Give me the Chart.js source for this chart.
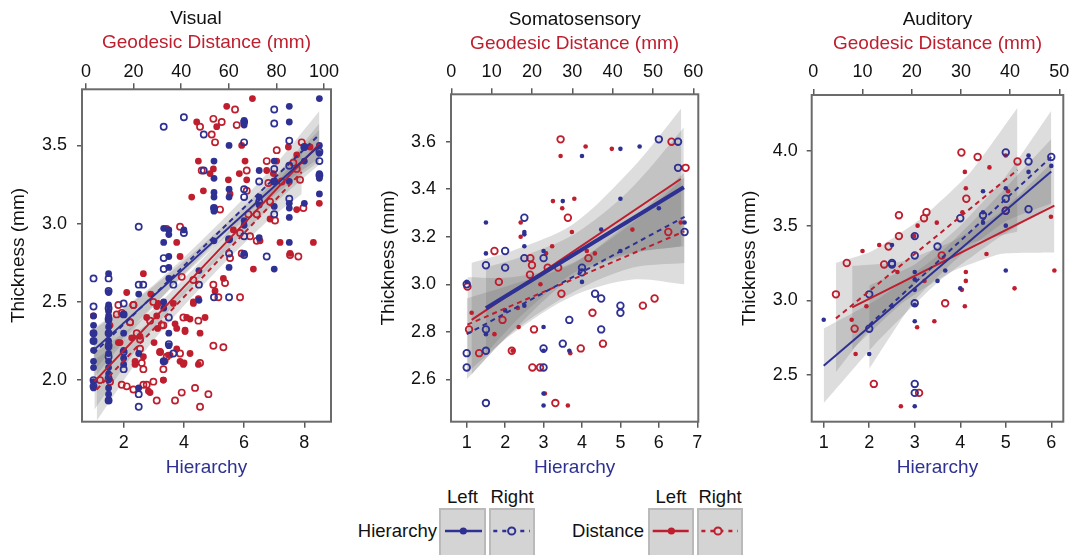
<!DOCTYPE html>
<html>
<head>
<meta charset="utf-8">
<title>Thickness vs hierarchy and geodesic distance</title>
<script src="https://cdn.jsdelivr.net/npm/chart.js@4.4.1/dist/chart.umd.min.js"></script>
<style>
  html, body { margin: 0; padding: 0; background: #fff; overflow: hidden; }
  body { width: 1073px; height: 555px; position: relative; font-family: "Liberation Sans", Arial, Helvetica, sans-serif; color: #111; }
  canvas { position: absolute; top: 0; }
  .lg-head, .lg-name { position: absolute; font-size: 18.5px; line-height: 22px; }
  .lg-head { top: 486px; text-align: center; }
  .lg-name { top: 520px; text-align: right; width: 110px; }
  .lg-box { position: absolute; top: 508px; height: 60px; box-sizing: border-box; background: #d4d4d4; border: 2px solid #bababa; }
  .lg-box svg { position: absolute; left: 0; top: 0; }
</style>
</head>
<body>
<canvas id="visual" width="385" height="480" style="left:0px"></canvas>
<canvas id="somato" width="353" height="480" style="left:362px"></canvas>
<canvas id="audit" width="361" height="480" style="left:722px"></canvas>

<div class="lg-head" style="left:439px;width:47px">Left</div>
<div class="lg-head" style="left:489px;width:46px">Right</div>
<div class="lg-name" style="left:327px">Hierarchy</div>
<div class="lg-box" style="left:439px;width:47px">
  <svg width="43" height="50"><line x1="4" y1="21" x2="41" y2="21" stroke="#2e3192" stroke-width="2.5"/><circle cx="22.3" cy="21" r="3.6" fill="#2e3192"/></svg>
</div>
<div class="lg-box" style="left:489px;width:46px">
  <svg width="42" height="50"><line x1="2.3" y1="21" x2="39" y2="21" stroke="#2e3192" stroke-width="2.5" stroke-dasharray="4 5"/><circle cx="20.7" cy="21" r="3.6" fill="#d4d4d4" stroke="#2e3192" stroke-width="2"/></svg>
</div>

<div class="lg-head" style="left:648px;width:46px">Left</div>
<div class="lg-head" style="left:697px;width:46px">Right</div>
<div class="lg-name" style="left:534px">Distance</div>
<div class="lg-box" style="left:648px;width:46px">
  <svg width="42" height="50"><line x1="2.7" y1="21" x2="38.7" y2="21" stroke="#be1e2d" stroke-width="2.5"/><circle cx="21.4" cy="21" r="3.6" fill="#be1e2d"/></svg>
</div>
<div class="lg-box" style="left:697px;width:46px">
  <svg width="42" height="50"><line x1="2.4" y1="21" x2="39" y2="21" stroke="#be1e2d" stroke-width="2.5" stroke-dasharray="4 5"/><circle cx="19" cy="21" r="3.6" fill="#d4d4d4" stroke="#be1e2d" stroke-width="2"/></svg>
</div>

<script>
// ---------- Visual ----------
const visualHierTicks = [2, 4, 6, 8];
const visualDistTicks = [0, 20, 40, 60, 80, 100];
const visualThickTicks = [2.0, 2.5, 3.0, 3.5];

// [hierarchy, thickness]
const visualHierL = [
  [1,2.41],[1,2.35],[1,2.30],[1,2.25],[1,2.19],[1,2.12],[1,2.08],[1,1.99],[1,1.95],
  [1.5,2.68],[1.5,2.56],[1.5,2.48],[1.5,2.44],[1.5,2.41],[1.5,2.38],[1.5,2.34],[1.5,2.30],[1.5,2.25],
  [1.5,2.21],[1.5,2.17],[1.5,2.12],[1.5,2.08],[1.5,2.04],[1.5,2.00],[1.5,1.95],[1.5,1.91],[1.5,1.87],
  [2,2.42],[2,2.30],[2,2.19],[2,2.14],[2,2.10],
  [2.5,2.55],[2.5,2.17],[2.5,1.95],
  [3.33,2.97],[3.33,2.88],[3.33,2.50],[3.33,2.46],[3.33,2.12],
  [3.5,2.96],[3.5,2.93],[3.5,2.79],[3.5,2.72],[3.5,2.65],[3.5,2.30],[3.5,2.22],
  [4,2.96],[4.5,2.70],[4.5,2.51],
  [5,3.40],[5,3.29],[5,3.20],[5,3.17],[5,3.10],[5,3.08],[5,2.89],
  [5.5,3.50],[5.5,3.22],[5.5,3.17],[5.5,2.90],[5.5,2.72],
  [6,3.66],[6,3.63],[6,3.02],[6,2.99],[6,2.81],
  [6.5,3.34],[6.5,3.17],[6.5,3.12],[6.5,2.91],
  [7,3.40],[7,3.27],[7,3.11],[7,2.71],
  [7.5,3.75],[7.5,3.65],[7.5,3.27],[7.5,3.13],[7.5,3.10],[7.5,3.04],[7.5,2.88],
  [8,3.49],[8,3.40],[8,3.13],
  [8.5,3.80],[8.5,3.50],[8.5,3.45],[8.5,3.32],[8.5,3.29],[8.5,3.19]
];
const visualHierR = [
  [1,2.65],[1,2.47],[1,2.30],[1,2.25],[1,2.00],[1,1.96],
  [1.5,2.65],[1.5,2.57],[1.5,2.46],[1.5,2.39],[1.5,2.30],[1.5,2.22],[1.5,2.15],[1.5,2.01],[1.5,1.87],
  [2,2.49],[2,2.42],[2,2.18],[2,2.07],
  [2.5,2.61],[2.5,2.98],[2.5,1.91],[2.5,1.83],[2.65,2.61],
  [3.33,3.62],[3.33,2.78],[3.33,2.71],[3.33,2.12],
  [3.5,2.40],[3.5,2.23],[3.65,2.61],[3.65,2.17],
  [4,3.68],[4,2.94],[4.5,2.61],[4.66,3.57],[4.66,3.34],
  [5,2.53],[5,3.10],[5.5,2.53],[5.5,2.81],[5.5,2.90],
  [6,3.65],[6,3.52],[6,3.22],[6,3.17],[6,2.92],[6,2.80],
  [6.5,3.27],[6.5,3.14],[6.75,2.79],
  [7,3.73],[7,3.64],[7,3.35],[7,3.27],[7,3.06],
  [7.5,3.53],[7.5,3.37],[7.5,3.16],
  [8,3.49],[8.5,3.46],[8.5,3.40],[8.5,3.31]
];
// [distance mm, thickness]
const visualDistL = [
  [3.1,2.41],[3.1,2.30],[10.1,2.35],[13.6,2.24],[17.1,2.56],[19.2,2.27],[20.6,2.10],[24.1,2.68],
  [24.1,2.15],[25.5,2.40],[26.9,1.92],[29.7,2.47],[31.1,2.18],[32.5,2.00],[33.2,2.12],[33.9,2.97],
  [35.3,2.16],[36.7,2.49],[37.4,2.36],[38.1,2.20],[38.1,2.88],[39.5,2.79],[40.9,2.10],[41.6,2.31],
  [42.3,2.40],[43.7,2.39],[44.4,3.17],[45.1,2.49],[46.5,3.65],[47.2,3.40],[47.9,2.30],[49.3,3.21],
  [50.0,2.40],[52.1,3.32],[53.5,3.35],[54.2,2.57],[54.9,3.62],[57.7,2.65],[59.1,3.75],[59.8,3.28],
  [60.5,3.19],[61.9,2.96],[64.4,3.32],[65.4,3.50],[66.8,3.40],[67.5,3.28],[69.9,3.80],[70.3,2.71],
  [73.1,2.89],[75.9,3.34],[77.3,3.03],[78.7,3.32],[80.1,3.40],[81.5,2.88],[85.0,3.49],[85.7,2.81],
  [88.5,3.44],[88.5,3.09],[94.1,3.49],[95.5,2.88],[98.0,3.13],
  [29.7,2.41],[30.1,2.33],[28.6,2.24],[38.1,2.33],[41.6,2.32],[43.7,2.17],[39.5,2.12],[34.6,2.16],
  [32.5,2.00],[26.2,1.93],[14.3,2.24],[20.6,2.12],[47.2,2.10],[41.2,2.11],[22.7,2.28],[27.2,2.55],
  [30.4,2.49],[47.2,2.52],[45.1,2.50]
];
const visualDistR = [
  [5.9,2.00],[10.1,1.99],[12.9,2.42],[13.6,2.48],[15.0,1.97],[17.1,1.96],[18.5,2.37],[19.9,1.94],
  [19.9,2.48],[21.3,2.30],[24.1,2.07],[24.1,1.97],[25.5,1.97],[28.3,1.99],[28.3,2.50],[29.7,1.87],
  [32.5,2.07],[32.5,2.35],[33.9,2.15],[37.4,1.87],[39.5,2.17],[39.5,2.98],[40.2,1.92],[40.2,2.66],
  [40.9,2.40],[45.1,2.64],[45.8,1.95],[47.2,2.38],[47.9,2.11],[47.9,3.62],[47.9,1.83],[48.6,3.34],
  [51.4,1.91],[52.8,3.57],[53.5,2.22],[53.5,2.61],[53.5,3.67],[54.2,3.52],[55.6,2.53],[56.3,3.09],
  [57.0,3.65],[57.7,2.21],[58.4,2.62],[60.5,2.78],[62.6,3.73],[63.3,3.63],[64.7,2.53],[64.7,2.94],
  [65.4,2.81],[67.5,3.34],[67.5,3.21],[68.2,3.06],[68.9,2.92],[71.7,2.89],[71.7,3.06],[75.9,3.40],
  [76.6,3.26],[77.3,3.14],[79.4,3.02],[80.1,3.47],[82.2,3.27],[85.7,2.80],[87.1,3.39],[88.5,3.35],
  [89.2,2.79],[89.9,3.28],[90.6,3.52],[91.3,3.10],
  [19.9,2.48],[15.0,2.43],[18.5,2.37],[22.7,2.26],[26.9,2.38],[31.8,2.35],[22.7,2.20],[31.1,2.18],
  [23.4,2.11]
];
const visualHierLFit = [[1, 2.19], [8.5, 3.50]];
const visualHierRFit = [[1, 2.17], [8.5, 3.57]];
const visualDistLFit = [[3.5, 1.99], [98, 3.51]];
const visualDistRFit = [[4.5, 1.94], [90.6, 3.33]];
// [x, lower, upper]
const visualHierLBand = [[1,2.06,2.32],[3,2.48,2.60],[5,2.85,2.93],[7,3.18,3.30],[8.5,3.40,3.60]];
const visualHierRBand = [[1,2.01,2.33],[3,2.47,2.61],[5,2.87,2.97],[7,3.21,3.37],[8.5,3.42,3.72]];
const visualDistLBand = [[3.5,1.81,2.17],[25,2.27,2.41],[50,2.69,2.79],[75,3.07,3.21],[98,3.38,3.64]];
const visualDistRBand = [[4.5,1.74,2.14],[25,2.19,2.35],[50,2.62,2.72],[75,3.00,3.16],[90.6,3.19,3.47]];

// ---------- Somatosensory ----------
const somatoHierTicks = [1, 2, 3, 4, 5, 6, 7];
const somatoDistTicks = [0, 10, 20, 30, 40, 50, 60];
const somatoThickTicks = [2.6, 2.8, 3.0, 3.2, 3.4, 3.6];

const somatoHierL = [
  [1,3.01],[1.5,3.26],[1.5,3.13],[1.5,2.79],[2,2.89],[2.5,3.22],[2.5,3.21],[2.5,3.16],[2.5,2.91],
  [3,3.14],[3,2.82],[3,2.72],[3,2.54],[3,2.49],[3.5,3.35],[3.67,2.72],[4,3.54],[4,3.01],
  [4.5,3.23],[5,3.57],[5,3.36],[5,3.14],[5.5,3.58],[6,3.32],[6.67,3.26]
];
const somatoHierR = [
  [1,2.71],[1,2.65],[1,3.00],[1.5,3.08],[1.5,2.81],[1.5,2.72],[1.5,2.50],[2,3.14],[2,3.07],
  [2.5,3.28],[2.5,3.11],[3,3.11],[3,2.73],[3,2.65],[3.5,2.75],[3.67,2.85],[4,3.07],[4,3.05],
  [4.34,2.96],[4.5,2.94],[4.5,2.81],[5,2.91],[5,2.88],[6,3.61],[6.5,3.60],[6.5,3.49],[6.67,3.22]
];
const somatoDistL = [
  [5.05,2.88],[10.7,2.79],[15.2,2.72],[16.7,2.82],[17.2,3.26],[17.2,3.20],[22.1,3.00],[23.5,3.13],
  [25.0,3.16],[25.2,3.35],[23.2,2.54],[27.1,3.54],[27.5,3.32],[29.9,3.22],[30.5,3.36],[29.5,2.71],
  [28.9,2.49],[33.3,3.58],[33.6,3.14],[35.6,3.13],[39.8,3.57],[44.9,3.23],[56.9,3.26],[16.5,2.90]
];
const somatoDistR = [
  [4.0,2.99],[4.4,2.81],[6.9,2.71],[10.7,3.14],[11.8,3.01],[12.7,2.85],[15.0,2.72],[19.6,3.11],
  [19.5,3.04],[20.0,3.08],[20.5,2.81],[20.1,2.65],[22.0,2.65],[23.9,3.07],[25.8,2.50],[26.5,3.07],
  [27.1,3.61],[27.3,2.96],[28.9,3.28],[32.1,2.73],[34.0,3.11],[35.0,2.88],[37.6,2.75],[47.5,2.91],
  [50.4,2.94],[53.8,3.22],[54.6,3.60],[58.1,3.49]
];
const somatoHierLFit = [[1.5, 2.899], [6.65, 3.408]];
const somatoHierRFit = [[1, 2.79], [6.67, 3.284]];
const somatoDistLFit = [[5.05, 2.85], [56.9, 3.443]];
const somatoDistRFit = [[4, 2.83], [57.8, 3.223]];
const somatoHierLBand = [[1.5,2.71,3.07],[2.5,2.88,3.12],[3.8,3.05,3.21],[5.2,3.13,3.39],[6.65,3.16,3.66]];
const somatoHierRBand = [[1,2.60,2.94],[2.2,2.80,3.00],[3.8,2.97,3.09],[5.3,3.07,3.27],[6.67,3.09,3.47]];
const somatoDistLBand = [[5,2.62,3.09],[15,2.80,3.14],[30,3.03,3.25],[45,3.13,3.49],[57,3.16,3.74]];
const somatoDistRBand = [[4,2.63,3.03],[15,2.79,3.03],[30,2.95,3.09],[45,3.02,3.26],[57.8,3.00,3.45]];

// ---------- Auditory ----------
const auditHierTicks = [1, 2, 3, 4, 5, 6];
const auditDistTicks = [0, 10, 20, 30, 40, 50];
const auditThickTicks = [2.5, 3.0, 3.5, 4.0];

const auditHierL = [
  [1,2.87],[2,2.64],[2.5,3.37],[2.5,2.96],[3,3.19],[3,3.14],[3,3.07],[3,2.97],[3,2.86],[3,2.29],
  [3.5,3.13],[3.67,3.20],[4,3.08],[4.5,3.73],[4.5,3.52],[4.5,3.59],[5,3.75],[5,3.50],[5,3.20],
  [5.5,3.97],[5.5,3.86],[6,3.90]
];
const auditHierR = [
  [2,3.04],[2,2.81],[2.5,3.25],[2.5,3.24],[3,3.43],[3,3.30],[3,2.98],[3,2.44],[3,2.38],[3.5,3.36],
  [4,3.55],[4.5,3.57],[5,3.99],[5,3.68],[5,3.60],[5.5,3.93],[5.5,3.61],[6,3.96]
];
const auditDistL = [
  [7.8,2.87],[8.6,2.64],[10.0,3.33],[10.8,2.96],[13.4,3.37],[17.1,3.19],[17.8,2.29],[20.5,3.43],
  [21.2,3.50],[21.1,2.82],[22.6,3.13],[24.6,2.86],[25.1,3.52],[30.3,3.59],[30.2,3.07],[30.8,3.86],
  [31.0,3.75],[31.0,3.19],[31.0,3.13],[30.8,2.96],[35.2,3.31],[35.8,3.89],[39.1,3.97],[39.6,3.73],
  [40.9,3.08],[48.3,3.56],[49.0,3.20]
];
const auditDistR = [
  [4.6,3.04],[6.8,3.25],[8.4,2.81],[12.3,2.44],[14.4,3.24],[15.3,3.36],[17.4,3.57],[17.4,3.43],
  [21.5,2.38],[22.5,3.55],[23.0,3.59],[26.1,3.30],[26.8,2.98],[30.1,3.99],[31.1,3.68],[33.4,3.96],
  [39.1,3.60],[41.5,3.93]
];
const auditHierLFit = [[1, 2.562], [6, 3.862]];
const auditHierRFit = [[2, 2.835], [6, 3.96]];
const auditDistLFit = [[7.9, 2.953], [49, 3.634]];
const auditDistRFit = [[4.6, 2.879], [41.5, 3.873]];
const auditHierLBand = [[1,2.31,2.81],[2.2,2.73,3.01],[3.5,3.12,3.30],[4.8,3.41,3.69],[6,3.64,4.08]];
const auditHierRBand = [[2,2.54,3.10],[3,3.00,3.24],[4,3.30,3.50],[5,3.53,3.83],[6,3.65,4.27]];
const auditDistLBand = [[7.9,2.67,3.23],[18,2.98,3.26],[28,3.19,3.39],[38,3.31,3.59],[49,3.32,3.94]];
const auditDistRBand = [[4.6,2.52,3.25],[12,2.83,3.33],[22,3.15,3.55],[32,3.38,3.86],[41.5,3.46,4.29]];

// ---------- drawing ----------
const BLUE = '#2e3192';
const RED = '#be1e2d';
const BAND = 'rgba(100,100,100,0.22)';

Chart.defaults.font.family = '"Liberation Sans", Arial, Helvetica, sans-serif';
Chart.defaults.color = '#111';

const frame = {
  id: 'frame',
  afterDatasetsDraw(chart) {
    const { ctx, chartArea: a } = chart;
    ctx.save();
    ctx.strokeStyle = '#6b6b6b';
    ctx.lineWidth = 2;
    ctx.strokeRect(a.left, a.top, a.right - a.left, a.bottom - a.top);
    ctx.restore();
  }
};

const xy = arr => arr.map(p => ({ x: p[0], y: p[1] }));

function dots(arr, axis, color, open, p) {
  return {
    type: 'scatter', xAxisID: axis, yAxisID: 'y', order: 1,
    data: xy(arr),
    pointRadius: open ? p.openR : p.dotR,
    pointBorderWidth: open ? p.openW : 0,
    pointBackgroundColor: open ? 'rgba(0,0,0,0)' : color,
    pointBorderColor: color
  };
}

function fit(arr, axis, color, dashed, width) {
  return {
    type: 'line', xAxisID: axis, yAxisID: 'y', order: 0,
    data: xy(arr), showLine: true, fill: false,
    borderColor: color, borderWidth: width, borderDash: dashed ? [5, 4] : [],
    pointRadius: 0, tension: 0
  };
}

function band(rows, axis, tension) {
  return [
    { type: 'line', xAxisID: axis, yAxisID: 'y', order: 2, showLine: true,
      data: rows.map(r => ({ x: r[0], y: r[2] })), fill: '+1', backgroundColor: BAND,
      borderColor: 'rgba(0,0,0,0)', borderWidth: 1, pointRadius: 0, tension },
    { type: 'line', xAxisID: axis, yAxisID: 'y', order: 2, showLine: true,
      data: rows.map(r => ({ x: r[0], y: r[1] })), fill: false,
      borderColor: 'rgba(0,0,0,0)', borderWidth: 1, pointRadius: 0, tension }
  ];
}

function panel(id, p) {
  const tickFont = { size: 18 };
  const titleFont = { size: 19 };
  const grid = len => ({ drawOnChartArea: false, drawTicks: true, tickLength: len, color: '#5a5a5a', lineWidth: 1.5 });
  const datasets = [
    fit(p.hierLFit, 'xh', BLUE, false, p.hierLW),
    fit(p.hierRFit, 'xh', BLUE, true, 2),
    fit(p.distLFit, 'xd', RED, false, 2),
    fit(p.distRFit, 'xd', RED, true, 2),
    dots(p.hierL, 'xh', BLUE, false, p),
    dots(p.hierR, 'xh', BLUE, true, p),
    dots(p.distL, 'xd', RED, false, p),
    dots(p.distR, 'xd', RED, true, p),
    ...band(p.hierLBand, 'xh', p.tension),
    ...band(p.hierRBand, 'xh', p.tension),
    ...band(p.distLBand, 'xd', p.tension),
    ...band(p.distRBand, 'xd', p.tension)
  ];
  const scales = {
    xh: {
      type: 'linear', position: 'bottom', min: p.hierRange[0], max: p.hierRange[1],
      afterBuildTicks: s => { s.ticks = p.hierTicks.map(v => ({ value: v })); },
      afterFit: s => { s.height = p.botH; },
      ticks: { font: tickFont, color: '#111', padding: 4.8, autoSkip: false, maxRotation: 0 },
      grid: grid(6), border: { display: false },
      title: { display: true, text: 'Hierarchy', color: BLUE, font: titleFont, padding: 0 }
    },
    xd: {
      type: 'linear', position: 'top', min: p.distRange[0], max: p.distRange[1],
      afterBuildTicks: s => { s.ticks = p.distTicks.map(v => ({ value: v })); },
      afterFit: s => { s.height = p.topH; },
      ticks: { font: tickFont, color: '#111', padding: p.topTickPad, autoSkip: false, maxRotation: 0 },
      grid: grid(6), border: { display: false },
      title: { display: true, text: 'Geodesic Distance (mm)', color: RED, font: titleFont,
               padding: { top: p.topTitlePad, bottom: 0 } }
    },
    y: {
      type: 'linear', position: 'left', min: p.yRange[0], max: p.yRange[1],
      afterBuildTicks: s => { s.ticks = p.yTicks.map(v => ({ value: v })); },
      afterFit: s => { s.width = p.yW; },
      ticks: { font: tickFont, color: '#111', padding: p.yTickPad, callback: v => v.toFixed(1) },
      grid: grid(5), border: { display: false },
      title: { display: true, text: 'Thickness (mm)', color: '#111', font: titleFont, padding: 0 }
    }
  };
  // empty spacer on the right, only used to shift the panel title
  if (p.spacerW) {
    scales.spacer = {
      type: 'linear', position: 'right', min: 0, max: 1,
      ticks: { display: false }, grid: { display: false }, border: { display: false },
      afterFit: s => { s.width = p.spacerW; }
    };
  }
  new Chart(document.getElementById(id), {
    type: 'scatter',
    data: { datasets },
    options: {
      responsive: false, animation: false, events: [], devicePixelRatio: 1,
      layout: { padding: p.pad },
      plugins: {
        legend: { display: false },
        tooltip: { enabled: false },
        title: { display: true, text: p.title, color: '#111', font: { size: 19, weight: 'normal' },
                 padding: 0, fullSize: p.titleFull }
      },
      scales
    },
    plugins: [frame]
  });
}

panel('visual', {
  title: 'Visual', titleFull: true, spacerW: 54,
  hierL: visualHierL, hierR: visualHierR, distL: visualDistL, distR: visualDistR,
  hierLFit: visualHierLFit, hierRFit: visualHierRFit, distLFit: visualDistLFit, distRFit: visualDistRFit,
  hierLBand: visualHierLBand, hierRBand: visualHierRBand, distLBand: visualDistLBand, distRBand: visualDistRBand,
  hierTicks: visualHierTicks, distTicks: visualDistTicks, yTicks: visualThickTicks,
  hierRange: [0.617, 8.885], distRange: [-1.68, 102.9], yRange: [1.734, 3.859],
  pad: { left: 6.9, right: 0, top: 6.9, bottom: 0.6 },
  yW: 75.1, topH: 59.6, botH: 57.7, topTitlePad: 1.2, topTickPad: 0.2, yTickPad: 10,
  dotR: 3.4, openR: 3.1, openW: 1.7, hierLW: 2, tension: 0.3
});

panel('somato', {
  title: 'Somatosensory', titleFull: false,
  hierL: somatoHierL, hierR: somatoHierR, distL: somatoDistL, distR: somatoDistR,
  hierLFit: somatoHierLFit, hierRFit: somatoHierRFit, distLFit: somatoDistLFit, distRFit: somatoDistRFit,
  hierLBand: somatoHierLBand, hierRBand: somatoHierRBand, distLBand: somatoDistLBand, distRBand: somatoDistRBand,
  hierTicks: somatoHierTicks, distTicks: somatoDistTicks, yTicks: somatoThickTicks,
  hierRange: [0.591, 7.027], distRange: [-0.074, 61.24], yRange: [2.4216, 3.7995],
  pad: { left: 14.9, right: 16.7, top: 8.6, bottom: 0.6 },
  yW: 74.1, topH: 62.9, botH: 57.7, topTitlePad: 0.5, topTickPad: 5.2, yTickPad: 10,
  dotR: 2.3, openR: 3.3, openW: 1.8, hierLW: 4, tension: 0.3
});

panel('audit', {
  title: 'Auditory', titleFull: false,
  hierL: auditHierL, hierR: auditHierR, distL: auditDistL, distR: auditDistR,
  hierLFit: auditHierLFit, hierRFit: auditHierRFit, distLFit: auditDistLFit, distRFit: auditDistRFit,
  hierLBand: auditHierLBand, hierRBand: auditHierRBand, distLBand: auditDistLBand, distRBand: auditDistRBand,
  hierTicks: auditHierTicks, distTicks: auditDistTicks, yTicks: auditThickTicks,
  hierRange: [0.736, 6.264], distRange: [-0.325, 50.81], yRange: [2.187, 4.375],
  pad: { left: 16.6, right: 19.7, top: 8.6, bottom: 0.6 },
  yW: 73.1, topH: 63.6, botH: 57.7, topTitlePad: 0.5, topTickPad: 5.9, yTickPad: 9,
  dotR: 2.3, openR: 3.3, openW: 1.8, hierLW: 2, tension: 0.15
});
</script>
</body>
</html>
